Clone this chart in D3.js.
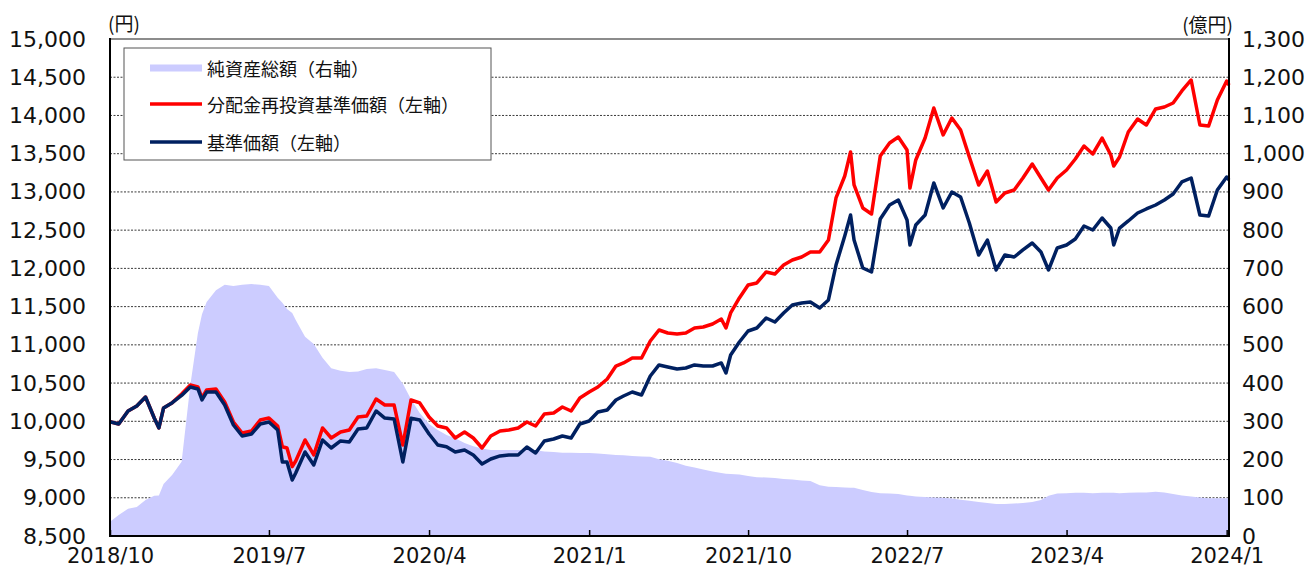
<!DOCTYPE html>
<html><head><meta charset="utf-8">
<script src="https://cdn.jsdelivr.net/npm/d3@7"></script>
<style>body{margin:0;background:#fff} svg{display:block}</style>
</head><body>
<svg id="chart" width="1311" height="569"></svg>
<script>
const dates = ["2018-10-01","2018-10-16","2018-11-01","2018-11-16","2018-12-01","2018-12-16","2018-12-24",
"2019-01-01","2019-01-16","2019-02-01","2019-02-16","2019-03-01","2019-03-08","2019-03-16","2019-04-01","2019-04-16",
"2019-05-01","2019-05-16","2019-06-01","2019-06-16","2019-07-01","2019-07-16","2019-07-24","2019-08-01","2019-08-10",
"2019-08-16","2019-09-01","2019-09-16","2019-10-01","2019-10-16","2019-11-01","2019-11-16","2019-12-01","2019-12-16",
"2020-01-01","2020-01-16","2020-02-01","2020-02-16","2020-03-01","2020-03-16","2020-04-01","2020-04-16","2020-05-01",
"2020-05-16","2020-06-01","2020-06-16","2020-07-01","2020-07-16","2020-08-01","2020-08-16","2020-09-01","2020-09-16",
"2020-10-01","2020-10-16","2020-11-01","2020-11-16","2020-12-01","2020-12-16","2021-01-01","2021-01-16","2021-02-01",
"2021-02-16","2021-03-01","2021-03-16","2021-04-01","2021-04-16","2021-05-01","2021-05-16","2021-06-01","2021-06-16",
"2021-07-01","2021-07-16","2021-08-01","2021-08-16","2021-08-24","2021-09-01","2021-09-16","2021-10-01","2021-10-16",
"2021-11-01","2021-11-16","2021-12-01","2021-12-16","2022-01-01","2022-01-16","2022-02-01","2022-02-16","2022-03-01",
"2022-03-16","2022-03-26","2022-04-01","2022-04-16","2022-05-01","2022-05-16","2022-06-01","2022-06-16","2022-07-01",
"2022-07-06","2022-07-16","2022-08-01","2022-08-16","2022-09-01","2022-09-16","2022-10-01","2022-10-16","2022-11-01",
"2022-11-16","2022-12-01","2022-12-16","2023-01-01","2023-01-16","2023-02-01","2023-02-16","2023-03-01","2023-03-16",
"2023-04-01","2023-04-16","2023-05-01","2023-05-16","2023-06-01","2023-06-16","2023-06-21","2023-07-01","2023-07-16",
"2023-08-01","2023-08-16","2023-09-01","2023-09-16","2023-10-01","2023-10-16","2023-11-01","2023-11-16","2023-12-01",
"2023-12-16","2024-01-01","2024-01-05"];

// 基準価額（円）
const basePrice = [9995,9965,10135,10200,10318,10043,9913,
10174,10244,10338,10449,10423,10279,10383,10383,10213,
9952,9808,9834,9965,9991,9887,9468,9468,9232,
9324,9599,9429,9756,9651,9743,9730,9900,9913,
10135,10043,10030,9468,10039,10017,9834,9690,9668,
9599,9625,9560,9442,9507,9547,9560,9560,9664,
9586,9743,9769,9808,9782,9965,10004,10122,10148,
10279,10331,10383,10344,10593,10737,10711,10684,10697,
10737,10723,10723,10763,10632,10867,11037,11181,11220,
11351,11299,11417,11521,11547,11560,11482,11587,12044,
12424,12698,12371,12005,11953,12646,12829,12894,12633,
12306,12568,12698,13117,12790,12999,12934,12594,12175,
12371,11979,12175,12149,12241,12332,12214,11979,12267,
12306,12384,12554,12502,12659,12528,12306,12528,12620,
12724,12777,12829,12894,12973,13130,13182,12698,12685,
13025,13195,13156];

// 分配金再投資基準価額（円）
const reinvestPrice = [9995,9965,10135,10200,10318,10043,9913,
10174,10244,10357,10475,10449,10305,10410,10423,10253,
9991,9847,9873,10017,10043,9939,9668,9651,9407,
9481,9756,9560,9913,9782,9860,9887,10056,10069,
10292,10213,10213,9690,10279,10240,10056,9939,9913,
9782,9860,9782,9651,9808,9873,9887,9913,9991,
9939,10096,10109,10187,10135,10305,10383,10449,10553,
10723,10763,10828,10828,11050,11194,11155,11142,11155,
11220,11233,11273,11338,11220,11417,11613,11783,11809,
11953,11927,12044,12110,12149,12214,12214,12371,12921,
13208,13522,13091,12790,12711,13470,13640,13718,13548,
13051,13418,13705,14098,13745,13967,13810,13457,13091,
13274,12868,12986,13025,13182,13365,13182,13025,13182,
13287,13431,13601,13496,13705,13483,13339,13457,13784,
13954,13875,14085,14111,14163,14320,14464,13875,13862,
14202,14451,14398];

// 純資産総額（億円）
const netAssets = [37,55,71,76,94,105,106,
136,160,194,395,531,580,612,643,657,
654,657,659,657,654,623,610,594,583,
565,521,502,466,439,432,429,430,437,
439,434,429,398,358,322,293,277,264,
256,243,235,229,225,225,225,225,225,
224,221,220,218,218,217,217,216,214,
212,211,209,208,207,201,197,191,184,
179,174,169,165,163,162,161,157,154,
153,152,149,148,145,144,133,129,128,
127,126,126,120,115,112,111,110,106,
105,103,102,101,100,98,95,92,89,
86,84,84,85,86,89,94,105,111,
112,113,113,112,113,113,113,112,113,
114,114,116,114,110,106,103,101,99,
99,99,99];

const leftTicks = [8500,9000,9500,10000,10500,11000,11500,12000,12500,13000,13500,14000,14500,15000];
const rightTicks = [0,100,200,300,400,500,600,700,800,900,1000,1100,1200,1300];
const xTickDates = ["2018-10-01","2019-07-01","2020-04-01","2021-01-01","2021-10-01","2022-07-01","2023-04-01","2024-01-01"];
const xTickLabels = ["2018/10","2019/7","2020/4","2021/1","2021/10","2022/7","2023/4","2024/1"];
const legendLabels = ["純資産総額（右軸）","分配金再投資基準価額（左軸）","基準価額（左軸）"];
const colors = {assets:"#CCCCFF", reinvest:"#FF0000", base:"#002060"};

const svg = d3.select("#chart");
const L = 110, R = 1229, T = 39, B = 536;
const parse = d3.utcParse("%Y-%m-%d");
const dts = dates.map(parse);
const x = d3.scaleUtc().domain([parse("2018-10-01"), parse("2024-01-05")]).range([L, R]);
const yL = d3.scaleLinear().domain([8500, 15000]).range([B, T]);
const yR = d3.scaleLinear().domain([0, 1300]).range([B, T]);
const numFont = "'DejaVu Sans', sans-serif";
const jpFont = "'Noto Sans CJK JP', sans-serif";

// gridlines
svg.append("g").selectAll("line").data(leftTicks.filter(v => v > 8500 && v < 15000)).join("line")
  .attr("x1", L).attr("x2", R).attr("y1", d => yL(d)).attr("y2", d => yL(d))
  .attr("stroke", "#3a3a3a").attr("stroke-width", 1).attr("stroke-dasharray", "2,1.5");

// area
const area = d3.area().x((d, i) => x(dts[i])).y0(B).y1(d => yR(d));
svg.append("path").attr("d", area(netAssets)).attr("fill", colors.assets);

// lines
const line = d3.line().x((d, i) => x(dts[i])).y(d => yL(d)).curve(d3.curveLinear);
svg.append("path").attr("d", line(reinvestPrice)).attr("fill", "none")
  .attr("stroke", colors.reinvest).attr("stroke-width", 3.5).attr("stroke-linejoin", "round");
svg.append("path").attr("d", line(basePrice)).attr("fill", "none")
  .attr("stroke", colors.base).attr("stroke-width", 3.5).attr("stroke-linejoin", "round");

// frame
svg.append("line").attr("x1", L).attr("x2", R).attr("y1", T).attr("y2", T).attr("stroke", "#8c8c8c").attr("stroke-width", 2);
svg.append("line").attr("x1", L).attr("x2", L).attr("y1", T - 1).attr("y2", B).attr("stroke", "#000").attr("stroke-width", 2);
svg.append("line").attr("x1", R).attr("x2", R).attr("y1", T - 1).attr("y2", B).attr("stroke", "#000").attr("stroke-width", 2);

// axes
const axL = svg.append("g").attr("transform", `translate(${L},0)`)
  .call(d3.axisLeft(yL).tickValues(leftTicks).tickSize(0).tickPadding(24).tickFormat(d3.format(",")));
const axR = svg.append("g").attr("transform", `translate(${R},0)`)
  .call(d3.axisRight(yR).tickValues(rightTicks).tickSize(0).tickPadding(13).tickFormat(d3.format(",")));
const axB = svg.append("g").attr("transform", `translate(0,${B})`)
  .call(d3.axisBottom(x).tickValues(xTickDates.map(parse)).tickSize(-6).tickPadding(12)
    .tickFormat((d, i) => xTickLabels[i]));
[axL, axR].forEach(g => {
  g.select(".domain").remove();
  g.selectAll("text").attr("font-family", numFont).attr("font-size", 22).attr("fill", "#111");
});
axB.select(".domain").remove();
axB.selectAll("text").attr("font-family", numFont).attr("font-size", 21).attr("fill", "#111");
axB.selectAll(".tick line").attr("stroke", "#000").attr("stroke-width", 1.5);
svg.append("line").attr("x1", L - 1).attr("x2", R + 1).attr("y1", B).attr("y2", B).attr("stroke", "#000").attr("stroke-width", 2);

// unit labels
svg.append("text").attr("x", 108).attr("y", 22).attr("dominant-baseline", "central")
  .attr("font-family", jpFont).attr("font-size", 19).attr("fill", "#111").text("(円)");
svg.append("text").attr("x", 1233).attr("y", 23).attr("dominant-baseline", "central").attr("text-anchor", "end")
  .attr("font-family", jpFont).attr("font-size", 19).attr("fill", "#111").text("(億円)");

// legend
const lg = svg.append("g");
lg.append("rect").attr("x", 124).attr("y", 48).attr("width", 367).attr("height", 112)
  .attr("fill", "#fff").attr("stroke", "#555").attr("stroke-width", 1);
const rows = [
  {label: legendLabels[0], color: colors.assets, w: 7, y: 68},
  {label: legendLabels[1], color: colors.reinvest, w: 3.5, y: 104},
  {label: legendLabels[2], color: colors.base, w: 3.5, y: 142}
];
rows.forEach(r => {
  lg.append("line").attr("x1", 150).attr("x2", 202).attr("y1", r.y).attr("y2", r.y)
    .attr("stroke", r.color).attr("stroke-width", r.w);
  lg.append("text").attr("x", 207).attr("y", r.y).attr("dominant-baseline", "central")
    .attr("font-family", jpFont).attr("font-size", 18).attr("fill", "#111").text(r.label);
});
</script>
</body></html>
